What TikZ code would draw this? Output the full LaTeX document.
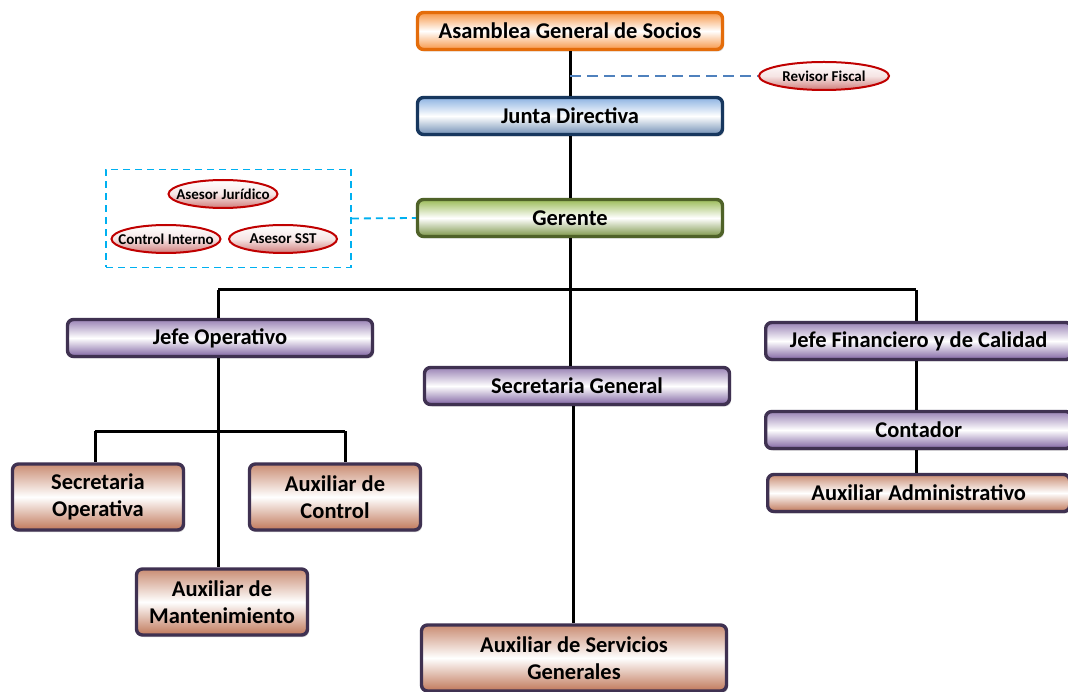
\documentclass[tikz,border=0pt]{standalone}
\usepackage{fontspec}
\setmainfont{Carlito}
\usetikzlibrary{shapes.geometric,shadows}
\definecolor{orgB}{HTML}{E46C0A}
\definecolor{orgF}{HTML}{F79646}
\definecolor{bluB}{HTML}{17375E}
\definecolor{bluF}{HTML}{8DB3E2}
\definecolor{grnB}{HTML}{4F6228}
\definecolor{grnF}{HTML}{9BBB59}
\definecolor{purB}{HTML}{3F3151}
\definecolor{purF}{HTML}{8064A2}
\definecolor{salF}{HTML}{C0785A}
\definecolor{redB}{HTML}{C00000}
\definecolor{redF}{HTML}{C0504D}
\definecolor{dashB}{HTML}{4F81BD}
\definecolor{dashC}{HTML}{00B0F0}
\newcommand{\ztext}[1]{\makebox[0pt]{#1}}
\begin{document}
\begin{tikzpicture}[x=1pt,y=-1pt,
  box/.style={draw, line width=3.4pt, rounded corners=6pt, minimum height=37pt,
    align=center, inner sep=0pt, font=\bfseries\fontsize{22.5}{27}\selectfont,
    drop shadow={opacity=0.35, shadow xshift=1.5pt, shadow yshift=-2pt}},
  orgbox/.style={box, draw=orgB, top color=orgF, bottom color=orgF, middle color=white},
  blubox/.style={box, draw=bluB, top color=bluF, bottom color=bluF!80!black, middle color=white},
  grnbox/.style={box, draw=grnB, top color=grnF, bottom color=grnF!80!black, middle color=white},
  purbox/.style={box, draw=purB, top color=purF!80, bottom color=purF, middle color=white},
  salbox/.style={box, draw=purB, top color=salF!85, bottom color=salF, middle color=white},
  oval/.style={ellipse, draw=redB, line width=2pt, minimum height=28pt, inner sep=0pt,
    top color=white, bottom color=redF!75, middle color=white!85!redF,
    font=\bfseries\fontsize{15}{16}\selectfont},
  conn/.style={line width=3pt, black},
]
\useasboundingbox (0,0) rectangle (1068,692);
\clip (0,0) rectangle (1068,692);
\fill[white] (0,0) rectangle (1068,692);

% main chain
\node[orgbox, minimum width=305pt] (asam) at (570,31) {Asamblea General de Socios};
\node[blubox, minimum width=305pt] (junta) at (570,116) {Junta Directiva};
\node[grnbox, minimum width=305pt] (ger) at (570,218) {Gerente};

\node[oval, minimum width=130pt] (rev) at (824,76) {\ztext{Revisor Fiscal}};

% advisors group
\node[oval, minimum width=109pt] (jur) at (223,194) {\ztext{Asesor Jurídico}};
\node[oval, minimum width=109pt] (ci) at (166,239) {\ztext{Control Interno}};
\node[oval, minimum width=108pt] (sst) at (283,239) {\ztext{Asesor SST}};
\node[draw=dashC, line width=1.8pt, dash pattern=on 7pt off 5pt,
      minimum width=245pt, minimum height=98pt, inner sep=0pt] (grp) at (228.5,218.5) {};

% second level
\node[purbox, minimum width=305pt] (jop) at (220,338) {Jefe Operativo};
\node[purbox, minimum width=305pt] (sg) at (577,386) {Secretaria General};
\node[purbox, minimum width=306pt, anchor=west] (jf) at (764,341) {Jefe Financiero y de Calidad};
\node[purbox, minimum width=306pt, anchor=west] (cont) at (764,430) {Contador};
\node[salbox, minimum width=302pt, anchor=west] (aux) at (766,493) {Auxiliar Administrativo};

% lower boxes
\node[salbox, minimum width=171pt, minimum height=66pt] (so) at (98,497) {Secretaria\\Operativa};
\node[salbox, minimum width=171pt, minimum height=66pt] (ac) at (335,497) {Auxiliar de\\Control};
\node[salbox, minimum width=171pt, minimum height=66pt] (am) at (222,602) {Auxiliar de\\Mantenimiento};
\node[salbox, minimum width=305pt, minimum height=66pt] (asg) at (574,658) {Auxiliar de Servicios\\Generales};

% coordinates
\coordinate (h1l) at (218,290);
\coordinate (h1r) at (916,290);
\coordinate (b1l) at (95,431);
\coordinate (b1r) at (345,431);

% connectors
\draw[conn] (asam.south) -- (junta.north);
\draw[conn] (junta.south) -- (ger.north);
\draw[conn] (ger.south) -- (sg.north -| ger.south);
\draw[conn] (h1l) -- (h1r);
\draw[conn] (h1l) -- (h1l |- jop.north);
\draw[conn] (h1r) -- (h1r |- jf.north);
\draw[conn] (h1l |- jop.south) -- (h1l |- am.north);
\draw[conn] (b1l) -- (b1r);
\draw[conn] (b1l) -- (b1l |- so.north);
\draw[conn] (b1r) -- (b1r |- ac.north);
\draw[conn] (573,0 |- sg.south) -- (573,0 |- asg.north);
\draw[conn] (h1r |- jf.south) -- (h1r |- cont.north);
\draw[conn] (h1r |- cont.south) -- (h1r |- aux.north);

% dashed links
\draw[dashB, line width=2.6pt, dash pattern=on 11pt off 6pt] (570,76) -- (rev.west);
\draw[dashC, line width=1.8pt, dash pattern=on 7pt off 5pt] (grp.east) -- (ger.west);
\end{tikzpicture}
\end{document}
